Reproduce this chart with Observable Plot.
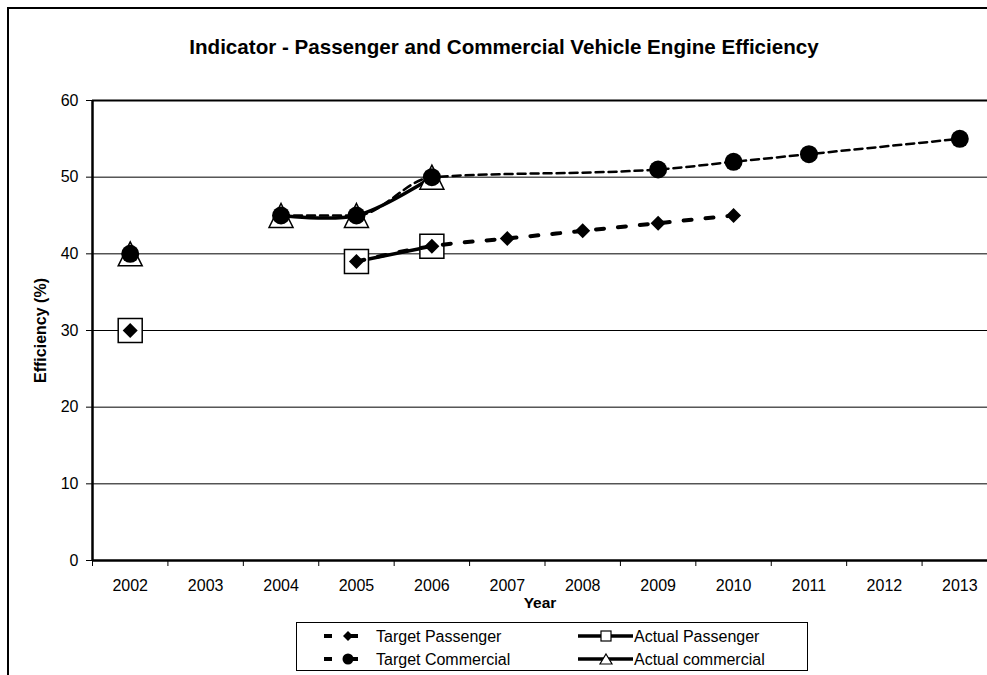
<!DOCTYPE html>
<html><head><meta charset="utf-8">
<script src="https://cdn.jsdelivr.net/npm/d3@7"></script>
<script src="https://cdn.jsdelivr.net/npm/@observablehq/plot@0.6"></script>
<style>
html,body{margin:0;padding:0;background:#fff;overflow:hidden;}
#wrap{position:relative;width:987px;height:675px;overflow:hidden;font-family:"Liberation Sans",Arial,sans-serif;color:#000;}
#border{position:absolute;left:7px;top:7px;width:1100px;height:800px;border:2px solid #000;}
#title{position:absolute;left:0;width:1008px;top:35px;text-align:center;font-weight:bold;font-size:20.6px;line-height:24px;}
#chart{position:absolute;left:0;top:80px;}
#legend{position:absolute;left:296px;top:622px;}
</style></head>
<body><div id="wrap"><div id="border"></div><div id="title">Indicator - Passenger and Commercial Vehicle Engine Efficiency</div><div id="chart"></div><div id="legend"></div></div>
<script>
// ---- data ----
const years = [2002, 2003, 2004, 2005, 2006, 2007, 2008, 2009, 2010, 2011, 2012, 2013];
const yTicks = [0, 10, 20, 30, 40, 50, 60];
const targetPassenger  = [30, null, null, 39, 41, 42, 43, 44, 45, null, null, null];
const actualPassenger  = [30, null, null, 39, 41, null, null, null, null, null, null, null];
const targetCommercial = [40, null, 45, 45, 50, null, null, 51, 52, 53, null, 55];
const actualCommercial = [40, null, 45, 45, 50, null, null, null, null, null, null, null];
const seriesNames = ["Target Passenger", "Actual Passenger", "Target Commercial", "Actual commercial"];

// ---- helpers ----
const toPoints = vals => years.map((year, i) => ({year, value: vals[i]})).filter(d => d.value != null);
const lineOf = pts => pts.filter(d => d.year >= 2004); // 2002 value stands alone in the source chart
const sym = f => ({draw(ctx, size) { const a = Math.sqrt(size / Math.PI); f(ctx, a); }});
const diamond = sym((c, a) => { c.moveTo(0, -a); c.lineTo(a, 0); c.lineTo(0, a); c.lineTo(-a, 0); c.closePath(); });
const square = sym((c, a) => { c.moveTo(-a, -a); c.lineTo(a, -a); c.lineTo(a, a); c.lineTo(-a, a); c.closePath(); });
const triangle = sym((c, a) => { c.moveTo(0, -a); c.lineTo(a, a); c.lineTo(-a, a); c.closePath(); });

const tp = toPoints(targetPassenger), ap = toPoints(actualPassenger);
const tc = toPoints(targetCommercial), ac = toPoints(actualCommercial);
const boundaries = d3.range(years[0] - 0.5, years[years.length - 1] + 1, 1);

const font = "Liberation Sans, Arial, sans-serif";
const chart = Plot.plot({
  width: 987, height: 540,
  marginTop: 20, marginBottom: 60, marginLeft: 92, marginRight: 0,
  style: {fontFamily: font, fontSize: "16px", color: "#000", background: "transparent", overflow: "visible"},
  x: {domain: [boundaries[0], boundaries[boundaries.length - 1]], range: [92, 997], axis: null},
  y: {domain: [0, 60], axis: null},
  marks: [
    Plot.ruleY(yTicks.slice(1, -1), {stroke: "#000", strokeWidth: 1}),
    Plot.ruleY([60], {stroke: "#000", strokeWidth: 2}),
    Plot.axisY(yTicks, {tickSize: 6, tickPadding: 8, tickFormat: d => String(d), fontSize: 16, label: null}),
    Plot.axisX(boundaries, {tickSize: 6, tickFormat: () => "", label: null}),
    Plot.axisX(years, {tickSize: 0, tickPadding: 19, tickFormat: d => String(d), fontSize: 16, label: null}),
    Plot.ruleX([boundaries[0]], {stroke: "#000", strokeWidth: 2.5}),
    Plot.ruleY([0], {stroke: "#000", strokeWidth: 2.5}),
    Plot.text(["Year"], {frameAnchor: "bottom", dy: 47, fontWeight: "bold", fontSize: 15.5, text: d => d}),
    Plot.text(["Efficiency (%)"], {frameAnchor: "left", textAnchor: "middle", dx: -52, rotate: -90, fontWeight: "bold", fontSize: 16, text: d => d}),
    // actual series
    Plot.line(lineOf(ac), {x: "year", y: "value", curve: "catmull-rom", stroke: "#000", strokeWidth: 3.5}),
    Plot.line(lineOf(ap), {x: "year", y: "value", curve: "catmull-rom", stroke: "#000", strokeWidth: 3.5}),
    Plot.dot(ac, {x: "year", y: "value", symbol: triangle, r: 12, fill: "#fff", stroke: "#000", strokeWidth: 1.5}),
    Plot.dot(ap, {x: "year", y: "value", symbol: square, r: 12, fill: "#fff", stroke: "#000", strokeWidth: 1.5}),
    // target series
    Plot.line(lineOf(tp), {x: "year", y: "value", curve: "monotone-x", stroke: "#000", strokeWidth: 4, strokeDasharray: "8 14"}),
    Plot.line(lineOf(tc), {x: "year", y: "value", curve: "monotone-x", stroke: "#000", strokeWidth: 2.5, strokeDasharray: "8 5"}),
    Plot.dot(tp, {x: "year", y: "value", symbol: diamond, r: 7.5, fill: "#000", stroke: "none"}),
    Plot.dot(tc, {x: "year", y: "value", r: 9, fill: "#000", stroke: "none"})
  ]
});
document.getElementById("chart").appendChild(chart);

// ---- legend ----
const lg = d3.select("#legend").append("svg").attr("width", 512).attr("height", 49)
  .style("font-family", font).style("font-size", "16px");
lg.append("rect").attr("x", 0.5).attr("y", 0.5).attr("width", 511).attr("height", 48).attr("fill", "#fff").attr("stroke", "#000");
const entries = [
  {name: seriesNames[0], col: 0, row: 0, dashed: true, mark: "diamond"},
  {name: seriesNames[1], col: 1, row: 0, dashed: false, mark: "square"},
  {name: seriesNames[2], col: 0, row: 1, dashed: true, mark: "circle"},
  {name: seriesNames[3], col: 1, row: 1, dashed: false, mark: "triangle"}
];
entries.forEach(e => {
  const cy = e.row === 0 ? 14 : 37;
  const g = lg.append("g");
  if (e.dashed) {
    g.append("line").attr("x1", 28).attr("x2", 36).attr("y1", cy).attr("y2", cy).attr("stroke", "#000").attr("stroke-width", 4);
    g.append("line").attr("x1", 50).attr("x2", 62).attr("y1", cy).attr("y2", cy).attr("stroke", "#000").attr("stroke-width", 4);
    const mx = 52;
    if (e.mark === "diamond") g.append("path").attr("d", `M${mx},${cy-5}L${mx+5},${cy}L${mx},${cy+5}L${mx-5},${cy}Z`).attr("fill", "#000");
    else g.append("circle").attr("cx", mx).attr("cy", cy).attr("r", 5.5).attr("fill", "#000");
    g.append("text").attr("x", 80).attr("y", cy + 5.5).text(e.name);
  } else {
    g.append("line").attr("x1", 282).attr("x2", 337).attr("y1", cy).attr("y2", cy).attr("stroke", "#000").attr("stroke-width", 3.5);
    const mx = 310;
    if (e.mark === "square") g.append("rect").attr("x", mx - 5).attr("y", cy - 5).attr("width", 10).attr("height", 10).attr("fill", "#fff").attr("stroke", "#000").attr("stroke-width", 1.2);
    else g.append("path").attr("d", `M${mx},${cy-5}L${mx+6},${cy+5}L${mx-6},${cy+5}Z`).attr("fill", "#fff").attr("stroke", "#000").attr("stroke-width", 1.2);
    g.append("text").attr("x", 338).attr("y", cy + 5.5).text(e.name);
  }
});
</script>
</body></html>
